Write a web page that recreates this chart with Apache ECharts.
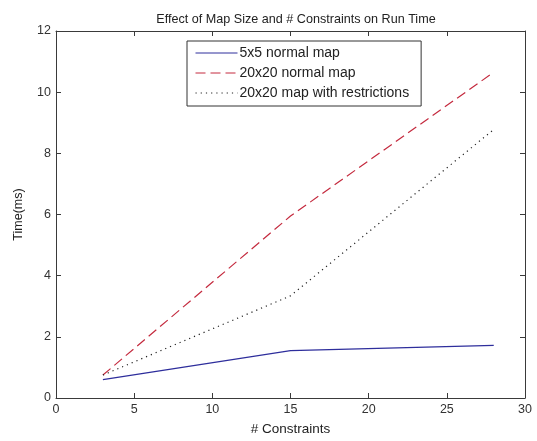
<!DOCTYPE html>
<html>
<head>
<meta charset="utf-8">
<script src="https://cdn.jsdelivr.net/npm/echarts@6/dist/echarts.min.js"></script>
<style>
  html, body { margin: 0; padding: 0; background: #fff; }
  #chart { width: 537px; height: 441px; }
</style>
</head>
<body>
<div id="chart"></div>
<script>
// values
var constraints = [3, 15, 28];
var small5x5 = [0.6, 1.55, 1.72];
var normal20x20 = [0.75, 5.95, 10.65];
var restricted20x20 = [0.75, 3.34, 8.78];
var xTicks = [0, 5, 10, 15, 20, 25, 30];
var yTicks = [0, 2, 4, 6, 8, 10, 12];

function pairs(ys) {
    return constraints.map(function (x, i) { return [x, ys[i]]; });
}

var font = 'Liberation Sans, Arial, sans-serif';
var axisColor = '#3a3a3a';

var chart = echarts.init(document.getElementById('chart'));

function axisBase(extra) {
    var a = {
        type: 'value',
        axisLine: { show: true, onZero: false, lineStyle: { color: axisColor, width: 1 } },
        axisTick: { show: true, inside: true, length: 5, lineStyle: { color: axisColor } },
        splitLine: { show: false },
        axisLabel: { color: '#333', fontFamily: font, fontSize: 12 }
    };
    return Object.assign(a, extra);
}

chart.setOption({
    animation: false,
    title: {
        text: 'Effect of Map Size and # Constraints on Run Time',
        left: 291,
        textAlign: 'center',
        top: 8,
        textStyle: { fontFamily: font, fontSize: 12.6, fontWeight: 'normal', color: '#222' }
    },
    grid: { left: 56, right: 12, top: 31, bottom: 40 },
    legend: {
        orient: 'vertical',
        left: 187,
        top: 41,
        padding: [5, 12, 6, 8],
        itemWidth: 42,
        itemHeight: 14,
        itemGap: 6,
        backgroundColor: '#fff',
        borderColor: '#333',
        borderWidth: 1,
        borderRadius: 0,
        itemStyle: { opacity: 0 },
        lineStyle: { width: 1 },
        textStyle: { fontFamily: font, fontSize: 14, color: '#222', padding: [0, 0, 0, -3] },
        data: ['5x5 normal map', '20x20 normal map', '20x20 map with restrictions']
    },
    xAxis: [
        axisBase({
            min: 0, max: 30, interval: 5,
            name: '# Constraints',
            nameLocation: 'middle',
            nameGap: 24,
            nameTextStyle: { fontFamily: font, fontSize: 13.5, color: '#222' },
            axisLabel: { color: '#333', fontFamily: font, fontSize: 12.5, margin: 5 }
        }),
        axisBase({
            min: 0, max: 30, interval: 5, position: 'top',
            axisLabel: { show: false }
        })
    ],
    yAxis: [
        axisBase({
            min: 0, max: 12, interval: 2,
            name: 'Time(ms)',
            nameLocation: 'middle',
            nameGap: 31,
            nameTextStyle: { fontFamily: font, fontSize: 12.5, color: '#222' },
            axisLabel: { color: '#333', fontFamily: font, fontSize: 12.5, margin: 5 }
        }),
        axisBase({
            min: 0, max: 12, interval: 2, position: 'right',
            axisLabel: { show: false }
        })
    ],
    series: [
        {
            name: '5x5 normal map',
            type: 'line',
            data: pairs(small5x5),
            symbol: 'none',
            lineStyle: { color: '#2e2e9c', width: 1.2 },
            itemStyle: { color: '#2e2e9c' }
        },
        {
            name: '20x20 normal map',
            type: 'line',
            data: pairs(normal20x20),
            symbol: 'none',
            lineStyle: { color: '#c42a3e', width: 1.2, type: [10, 5] },
            itemStyle: { color: '#c42a3e' }
        },
        {
            name: '20x20 map with restrictions',
            type: 'line',
            data: pairs(restricted20x20),
            symbol: 'none',
            lineStyle: { color: '#222', width: 1.2, type: [1.2, 4] },
            itemStyle: { color: '#222' }
        }
    ]
});
</script>
</body>
</html>
